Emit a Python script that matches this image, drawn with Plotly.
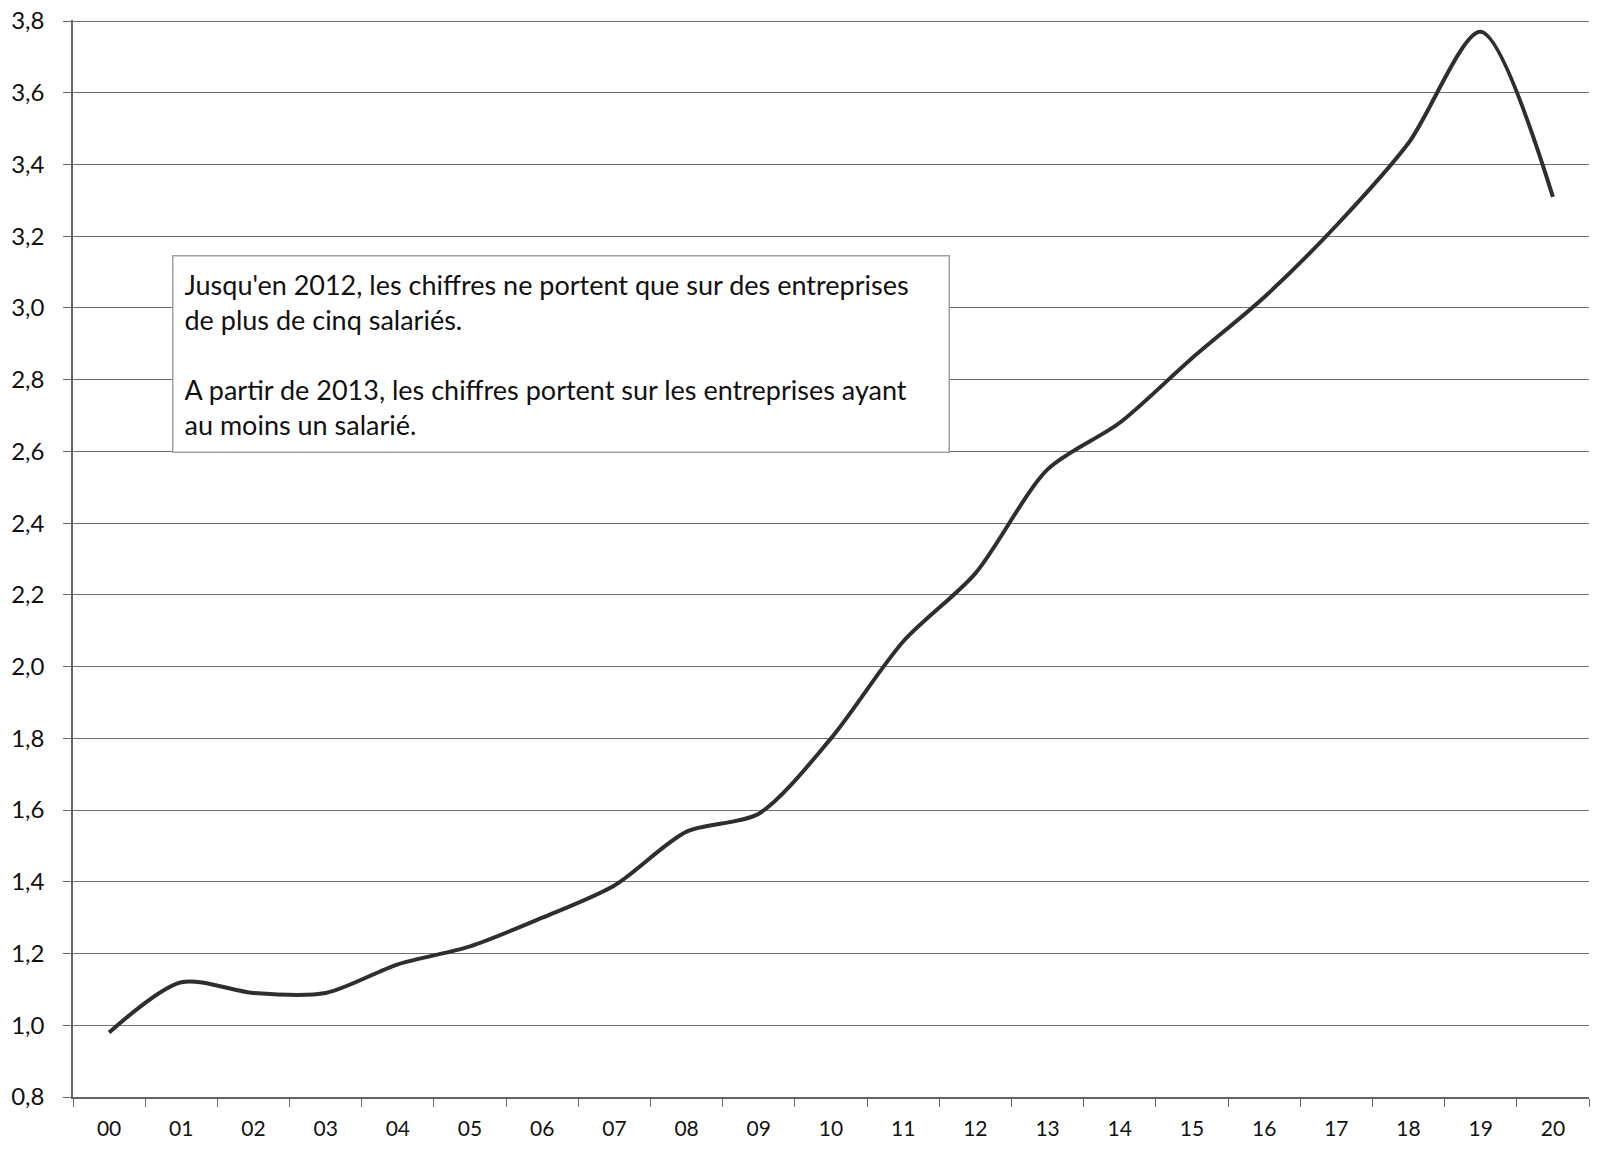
import plotly.graph_objects as go

categories = ["00", "01", "02", "03", "04", "05", "06", "07", "08", "09", "10",
              "11", "12", "13", "14", "15", "16", "17", "18", "19", "20"]
values = [0.98, 1.12, 1.09, 1.09, 1.17, 1.22, 1.30, 1.39, 1.54, 1.59, 1.80,
          2.07, 2.26, 2.55, 2.68, 2.86, 3.03, 3.23, 3.46, 3.77, 3.31]
y_min, y_max, y_step = 0.8, 3.8, 0.2
note_text = ("Jusqu'en 2012, les chiffres ne portent que sur des entreprises<br>"
             "de plus de cinq salariés.<br><br>"
             "A partir de 2013, les chiffres portent sur les entreprises ayant<br>"
             "au moins un salarié.")

font_family = "Lato, 'Open Sans', sans-serif"

fig = go.Figure()
fig.add_trace(go.Scatter(
    x=categories, y=values, mode="lines",
    line=dict(color="#2e2e2e", width=4, shape="spline", smoothing=0.8),
    showlegend=False, hoverinfo="x+y",
))

fig.update_layout(
    width=1599, height=1149,
    margin=dict(l=73, r=10, t=20, b=52),
    paper_bgcolor="white", plot_bgcolor="white",
    separators=", ",
    font=dict(family=font_family, size=20, color="#111"),
    xaxis=dict(
        type="category", range=[-0.5, 20.5], automargin=False,
        tickson="boundaries", ticks="outside", ticklen=8, tickcolor="#666",
        showline=True, linecolor="#666", linewidth=1.5,
        showgrid=False, tickfont=dict(size=21, color="#111"),
        ticklabelstandoff=12,
    ),
    yaxis=dict(
        range=[y_min, y_max + 0.003], dtick=y_step, tick0=y_min, tickformat=".1f",
        automargin=False, ticklabeloverflow="allow",
        ticks="outside", ticklen=8, tickcolor="#666",
        showline=True, linecolor="#666", linewidth=1.5,
        showgrid=True, gridcolor="#6e6e6e", gridwidth=1.2,
        zeroline=False, tickfont=dict(size=24, color="#111"),
        ticklabelstandoff=14,
    ),
    annotations=[dict(
        xref="paper", yref="paper", x=0.0653, y=0.7818,
        xanchor="left", yanchor="top",
        text=note_text, showarrow=False, align="left", valign="top",
        width=753,
        bgcolor="white", bordercolor="#a0a0a0", borderwidth=1.5, borderpad=11,
        font=dict(family=font_family, size=27, color="#111"),
    )],
)

fig.write_html(
    "out.html",
    config={"displayModeBar": False},
    post_script="document.body.style.margin='0';document.body.style.overflow='hidden';",
)
